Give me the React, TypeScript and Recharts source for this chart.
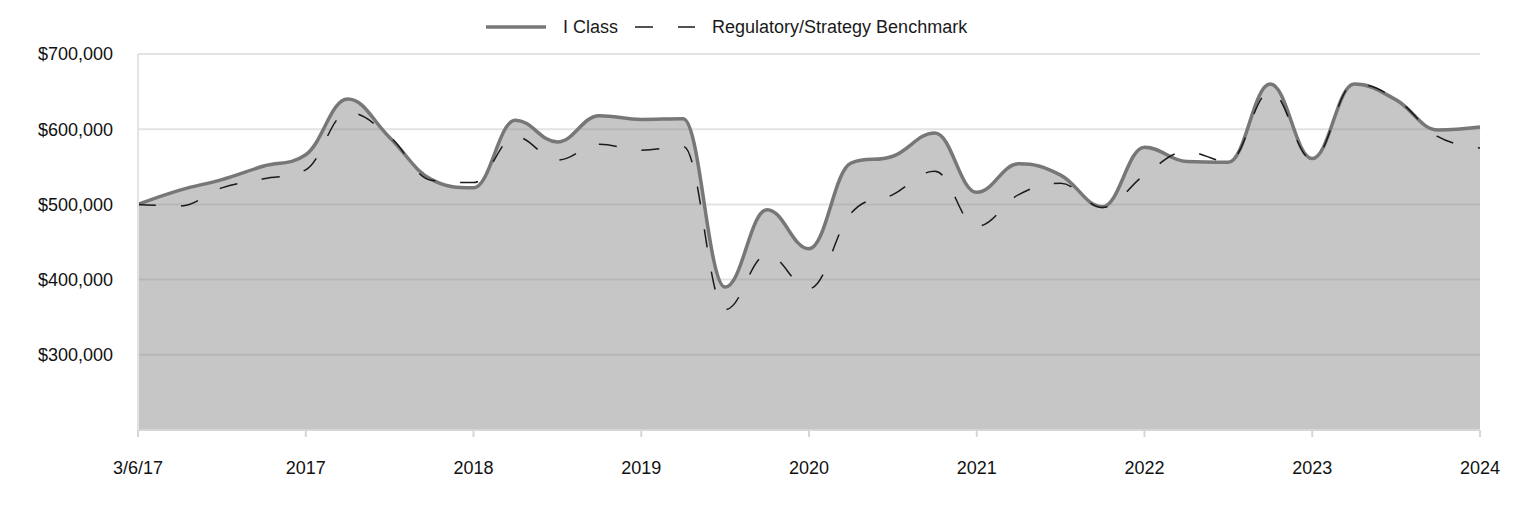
import { AreaChart, Area, Line, XAxis, YAxis, CartesianGrid } from 'recharts'

const tickLabels = ['3/6/17', '2017', '2018', '2019', '2020', '2021', '2022', '2023', '2024']

// quarterly values, 3/6/17 through 2024
const iClass = [
  500000, 519000, 533000, 551000, 566000, 640000, 589000, 533000, 522000,
  612000, 583000, 618000, 613000, 614000, 390000, 493000, 441000, 555000,
  564000, 595000, 516000, 554000, 539000, 497000, 576000, 557000, 556000,
  660000, 561000, 660000, 639000, 599000, 603000,
]

const benchmark = [
  500000, 498000, 522000, 534000, 546000, 622000, 590000, 532000, 529000,
  590000, 559000, 580000, 572000, 577000, 360000, 433000, 388000, 488000,
  513000, 544000, 471000, 513000, 528000, 496000, 539000, 570000, 557000,
  650000, 560000, 660000, 640000, 590000, 575000,
]

const yTicks = [300000, 400000, 500000, 600000, 700000]

const data = iClass.map((v, i) => ({ q: i, iClass: v, benchmark: benchmark[i] }))
const xTicks = tickLabels.map((_, i) => i * 4)

const FONT = '"Liberation Sans", Arial, sans-serif'
const fmtMoney = (v: number) => '$' + v.toLocaleString('en-US')

// spline with clamped control points (no false extremes between points)
class SmoothCurve {
  ctx: any
  pts: number[][] = []
  line = NaN
  constructor(ctx: any) {
    this.ctx = ctx
  }
  areaStart() {
    this.line = 0
  }
  areaEnd() {
    this.line = NaN
  }
  lineStart() {
    this.pts = []
  }
  point(x: number, y: number) {
    this.pts.push([+x, +y])
  }
  lineEnd() {
    const p = this.pts
    const n = p.length
    if (n) {
      const conts = p.map((pt, i) => {
        const prev = p[i - 1]
        const next = p[i + 1]
        if (!prev || !next) return [pt[0], pt[1], pt[0], pt[1]]
        const s = 1.5
        const d = s + 1
        let lx = (s * pt[0] + prev[0]) / d
        let ly = (s * pt[1] + prev[1]) / d
        let rx = (s * pt[0] + next[0]) / d
        let ry = (s * pt[1] + next[1]) / d
        if (rx !== lx) {
          const corr = ((ry - ly) * (rx - pt[0])) / (rx - lx) + pt[1] - ry
          ly += corr
          ry += corr
        }
        if (ly > prev[1] && ly > pt[1]) {
          ly = Math.max(prev[1], pt[1])
          ry = 2 * pt[1] - ly
        } else if (ly < prev[1] && ly < pt[1]) {
          ly = Math.min(prev[1], pt[1])
          ry = 2 * pt[1] - ly
        }
        if (ry > next[1] && ry > pt[1]) {
          ry = Math.max(next[1], pt[1])
          ly = 2 * pt[1] - ry
        } else if (ry < next[1] && ry < pt[1]) {
          ry = Math.min(next[1], pt[1])
          ly = 2 * pt[1] - ry
        }
        return [lx, ly, rx, ry]
      })
      if (this.line) this.ctx.lineTo(p[0][0], p[0][1])
      else this.ctx.moveTo(p[0][0], p[0][1])
      for (let i = 1; i < n; i++) {
        const a = conts[i - 1]
        const b = conts[i]
        this.ctx.bezierCurveTo(a[2], a[3], b[0], b[1], p[i][0], p[i][1])
      }
    }
    if (this.line || (this.line !== 0 && n === 1)) this.ctx.closePath()
    this.line = 1 - this.line
  }
}

const smooth: any = (ctx: any) => new SmoothCurve(ctx)

function LegendBar() {
  return (
    <div
      style={{
        position: 'absolute',
        left: 486,
        top: 16,
        display: 'flex',
        alignItems: 'center',
        fontFamily: FONT,
        fontSize: 18,
        color: '#1a1a1a',
        whiteSpace: 'nowrap',
      }}
    >
      <svg width={60} height={22}>
        <line x1={0} y1={11} x2={60} y2={11} stroke="#777" strokeWidth={3.5} />
      </svg>
      <span style={{ marginLeft: 17 }}>I Class</span>
      <svg width={60} height={22} style={{ marginLeft: 17 }}>
        <line x1={0} y1={11} x2={60} y2={11} stroke="#1a1a1a" strokeWidth={1.5} strokeDasharray="18 25" />
      </svg>
      <span style={{ marginLeft: 17 }}>Regulatory/Strategy Benchmark</span>
    </div>
  )
}

export default function App() {
  return (
    <div style={{ position: 'absolute', left: 0, top: 0, width: 1524, height: 516, background: '#fff' }}>
      <LegendBar />
      <AreaChart
        width={1524}
        height={516}
        data={data}
        margin={{ top: 54, right: 44, bottom: 0, left: 0 }}
      >
        <CartesianGrid vertical={false} stroke="#e3e3e3" strokeWidth={2} />
        <XAxis
          dataKey="q"
          type="number"
          domain={[0, 32]}
          ticks={xTicks}
          tickFormatter={(v: number) => tickLabels[v / 4]}
          height={86}
          tickSize={7}
          tickMargin={24}
          stroke="#d6d6d6"
          strokeWidth={2}
          tick={{ fill: '#111', fontSize: 18, fontFamily: FONT }}
        />
        <YAxis
          domain={[200000, 700000]}
          ticks={yTicks}
          width={138}
          tickFormatter={fmtMoney}
          axisLine={{ stroke: '#e3e3e3', strokeWidth: 2 }}
          tickLine={false}
          tickSize={0}
          tickMargin={25}
          tick={{ fill: '#111', fontSize: 18, fontFamily: FONT }}
        />
        <Area
          dataKey="iClass"
          type={smooth}
          stroke="#777"
          strokeWidth={3.5}
          fill="#888888"
          fillOpacity={0.48}
          isAnimationActive={false}
          dot={false}
          activeDot={false}
        />
        <Line
          dataKey="benchmark"
          type={smooth}
          stroke="#1a1a1a"
          strokeWidth={1.5}
          strokeDasharray="18 25"
          dot={false}
          activeDot={false}
          isAnimationActive={false}
        />
      </AreaChart>
    </div>
  )
}
